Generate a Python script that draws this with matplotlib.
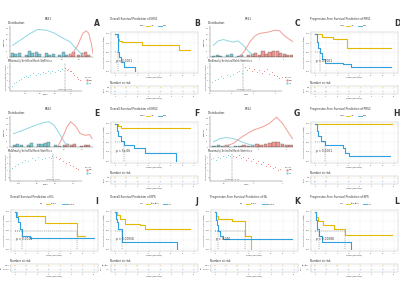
import matplotlib
matplotlib.use("Agg")
import matplotlib.pyplot as plt
from matplotlib.lines import Line2D

# ======================= DATA =======================
TIME_TICKS = [0, 10, 20, 30, 40, 50, 60, 70]

# ---- KM panels (times, survival) ----
B_low_t = [0, 2, 3, 4, 6, 24, 57, 66]
B_low_s = [1.0, 0.92, 0.87, 0.82, 0.78, 0.70, 0.56, 0.56]
B_high_t = [0, 2.3, 3, 4, 5, 8, 17.5]
B_high_s = [1.0, 0.62, 0.50, 0.38, 0.25, 0.12, 0.0]
B_risk_low = [23, 18, 15, 9, 9, 5, 3, 1]
B_risk_high = [14, 2, 0, 0, 0, 0, 0, 0]

D_low_t = [0, 6, 16, 28, 67]
D_low_s = [1.0, 0.92, 0.86, 0.62, 0.62]
D_high_t = [0, 1.5, 3, 4.5, 6, 9, 25, 32, 67]
D_high_s = [1.0, 0.78, 0.62, 0.48, 0.32, 0.23, 0.20, 0.12, 0.12]
D_risk_low = [10, 10, 8, 4, 4, 3, 3, 1]
D_risk_high = [28, 10, 6, 3, 3, 2, 2, 1]

F_low_t = [0, 3, 5, 66]
F_low_s = [1.0, 0.93, 0.88, 0.88]
F_high_t = [0, 2, 3, 5, 8, 16.6, 26.6, 54]
F_high_s = [1.0, 0.80, 0.68, 0.55, 0.42, 0.35, 0.21, 0.0]
F_risk_low = [16, 13, 10, 7, 7, 6, 4, 1]
F_risk_high = [21, 11, 5, 3, 2, 2, 0, 0]

H_low_t = [0, 68]
H_low_s = [1.0, 1.0]
H_high_t = [0, 1.5, 3, 5, 9, 25, 27, 30, 66]
H_high_s = [1.0, 0.80, 0.67, 0.53, 0.42, 0.35, 0.21, 0.14, 0.14]
H_risk_low = [8, 8, 7, 4, 4, 3, 3, 1]
H_risk_high = [30, 15, 7, 3, 3, 2, 2, 1]

I_single_t = [0, 2, 27, 54.5, 62]
I_single_s = [1.0, 0.89, 0.71, 0.35, 0.35]
I_multi_t = [0, 1, 3, 4.5, 6, 13.5, 70]
I_multi_s = [1.0, 0.85, 0.72, 0.55, 0.36, 0.29, 0.29]
I_risk_single = [20, 16, 14, 8, 8, 6, 3, 1]
I_risk_multi = [17, 8, 5, 4, 4, 4, 2, 1]

J_hi_t = [0, 1.5, 4.5, 9, 22, 27, 66]
J_hi_s = [1.0, 0.91, 0.80, 0.68, 0.64, 0.55, 0.55]
J_lo_t = [0, 0.5, 2, 3, 6, 54.5]
J_lo_s = [1.0, 0.82, 0.73, 0.55, 0.18, 0.0]
J_risk_hi = [25, 20, 16, 10, 9, 7, 4, 2]
J_risk_lo = [12, 4, 3, 2, 2, 1, 0, 0]

K_single_t = [0, 1, 3, 15, 27, 32]
K_single_s = [1.0, 0.89, 0.80, 0.75, 0.36, 0.0]
K_multi_t = [0, 0.5, 1.5, 3, 4.5, 7.5, 68]
K_multi_s = [1.0, 0.77, 0.64, 0.50, 0.36, 0.27, 0.27]
K_risk_single = [20, 15, 13, 6, 5, 4, 2, 1]
K_risk_multi = [17, 7, 5, 4, 4, 3, 2, 1]

L_hi_t = [0, 1, 3, 7.5, 16.5, 27, 68]
L_hi_s = [1.0, 0.85, 0.75, 0.64, 0.55, 0.38, 0.38]
L_lo_t = [0, 0.5, 2, 4, 6, 32]
L_lo_s = [1.0, 0.77, 0.55, 0.36, 0.18, 0.0]
L_risk_hi = [25, 18, 15, 8, 7, 6, 3, 2]
L_risk_lo = [12, 3, 2, 1, 0, 0, 0, 0]

# ---- Distribution panels ----
# A : ERS1
A_dlow_x = [0.22, 0.31, 0.43, 0.52, 0.62, 0.72, 0.82, 0.90, 0.97, 1.05]
A_dlow_y = [51, 73, 103, 120, 117, 103, 81, 66, 37, 7]
A_dhigh_x = [0.88, 0.93, 0.99, 1.05, 1.09, 1.12, 1.15, 1.17]
A_dhigh_y = [0, 15, 51, 103, 114, 103, 59, 15]
A_blow_x = [0.22, 0.26, 0.30, 0.38, 0.42, 0.46, 0.50, 0.54, 0.62, 0.66, 0.70, 0.78, 0.82, 0.86]
A_blow_n = [18, 12, 18, 10, 28, 18, 22, 14, 18, 10, 14, 10, 22, 8]
A_bhigh_x = [0.90, 0.94, 1.00, 1.04, 1.08, 1.12]
A_bhigh_n = [14, 22, 8, 18, 22, 10]
A_slow_x = [0.22, 0.25, 0.28, 0.32, 0.35, 0.38, 0.41, 0.44, 0.47, 0.50, 0.54,
            0.57, 0.60, 0.63, 0.66, 0.70, 0.73, 0.76, 0.79, 0.83, 0.86, 0.89]
A_slow_y = [1.3, 1.6, 1.8, 2.1, 2.2, 2.5, 2.7, 2.5, 2.9, 3.1, 2.8,
            3.2, 3.0, 3.3, 3.1, 3.4, 3.2, 3.5, 3.3, 3.6, 3.4, 3.7]
A_shigh_x = [0.93, 0.95, 0.97, 0.99, 1.01, 1.03, 1.05, 1.08, 1.10, 1.12]
A_shigh_y = [3.8, 3.6, 3.7, 3.4, 3.5, 3.1, 2.9, 2.5, 2.3, 2.1]
A_cut = 0.93

# C : PRS1
C_dlow_x = [-0.97, -0.76, -0.54, -0.33, -0.12, 0.09, 0.31, 0.52, 0.73]
C_dlow_y = [51, 70, 76, 70, 65, 70, 51, 26, 7]
C_dhigh_x = [0.16, 0.38, 0.59, 0.80, 1.01, 1.23, 1.44, 1.65, 1.86, 2.08, 2.29, 2.43]
C_dhigh_y = [0, 29, 66, 91, 103, 106, 110, 117, 114, 91, 76, 66]
C_blow_x = [-0.95, -0.8, -0.65, -0.35, -0.2, 0.1, 0.25]
C_blow_n = [6, 10, 6, 8, 14, 6, 8]
C_bhigh_x = [0.55, 0.7, 0.85, 1.0, 1.15, 1.3, 1.45, 1.6, 1.75, 1.9, 2.05, 2.2, 2.35]
C_bhigh_n = [8, 12, 18, 10, 24, 14, 20, 26, 28, 16, 14, 10, 8]
C_slow_x = [-0.92, -0.77, -0.62, -0.51, -0.39, -0.24, -0.08, 0.07, 0.22, 0.34, 0.45]
C_slow_y = [1.83, 2.10, 2.21, 2.63, 2.37, 2.90, 2.74, 3.06, 3.27, 3.43, 3.17]
C_shigh_x = [0.60, 0.68, 0.80, 0.91, 1.02, 1.14, 1.26, 1.37, 1.48, 1.60,
             1.72, 1.83, 1.93, 2.06, 2.18, 2.28]
C_shigh_y = [3.97, 3.59, 3.81, 3.43, 3.70, 3.27, 3.59, 3.17, 3.43, 3.70,
             3.06, 3.27, 2.90, 2.74, 2.37, 2.53]
C_cut = 0.53

# E : ERS2
E_dlow_x = [-0.39, -0.28, -0.16, -0.05, 0.02, 0.08, 0.14, 0.21, 0.25]
E_dlow_y = [58, 73, 91, 106, 110, 95, 59, 15, 3]
E_dhigh_x = [0.12, 0.18, 0.23, 0.27, 0.33, 0.38, 0.44, 0.49, 0.52]
E_dhigh_y = [0, 44, 88, 110, 91, 59, 51, 54, 37]
E_blow_x = [-0.38, -0.34, -0.30, -0.22, -0.18, -0.10, -0.06, -0.02, 0.02, 0.10, 0.14]
E_blow_n = [8, 12, 8, 10, 16, 12, 14, 18, 20, 8, 6]
E_bhigh_x = [0.20, 0.24, 0.28, 0.32, 0.40, 0.44, 0.48]
E_bhigh_n = [10, 14, 8, 12, 6, 10, 8]
E_slow_x = [-0.28, -0.24, -0.21, -0.17, -0.13, -0.10, -0.06, -0.02, 0.01, 0.05, 0.09, 0.13, 0.15, 0.17]
E_slow_y = [2.37, 2.74, 3.06, 3.27, 3.59, 3.43, 3.81, 3.59, 3.97, 3.70, 3.91, 4.07, 3.86, 4.13]
E_shigh_x = [0.21, 0.24, 0.26, 0.29, 0.32, 0.35, 0.37, 0.40, 0.43, 0.46]
E_shigh_y = [3.97, 3.70, 3.81, 3.43, 3.17, 3.27, 2.90, 2.63, 2.37, 2.21]
E_cut = 0.18

# G : PRS2
G_dlow_x = [-1.58, -1.35, -1.12, -0.89, -0.66, -0.42, -0.19]
G_dlow_y = [22, 37, 41, 37, 26, 15, 6]
G_dhigh_x = [-1.24, -0.89, -0.54, -0.19, 0.16, 0.39, 0.64, 0.85, 1.08, 1.2]
G_dhigh_y = [0, 15, 47, 73, 88, 103, 130, 103, 59, 37]
G_blow_x = [-1.55, -1.4, -1.25, -1.1, -0.8, -0.65]
G_blow_n = [6, 10, 4, 8, 6, 4]
G_bhigh_x = [-0.5, -0.35, -0.2, -0.05, 0.1, 0.25, 0.4, 0.55, 0.7, 0.85, 1.0, 1.15]
G_bhigh_n = [8, 6, 10, 12, 8, 14, 16, 20, 22, 12, 8, 10]
G_slow_x = [-1.48, -1.39, -1.30, -1.22, -1.14, -1.05, -0.96, -0.88, -0.80]
G_slow_y = [3.70, 3.91, 3.59, 3.97, 3.81, 4.23, 4.02, 4.34, 4.13]
G_shigh_x = [-0.69, -0.60, -0.51, -0.43, -0.35, -0.26, -0.17, -0.08, 0.00, 0.09,
             0.18, 0.26, 0.34, 0.43, 0.52, 0.60, 0.68, 0.77, 0.86, 0.94]
G_shigh_y = [4.23, 3.97, 4.34, 3.81, 4.07, 3.59, 3.81, 3.43, 3.70, 3.17,
             3.43, 3.06, 3.27, 2.74, 3.06, 2.63, 2.37, 2.53, 2.10, 2.21]
G_cut = -0.72

# ======================= STYLE =======================
W, H = 400, 293
YEL = "#E7B800"
BLU = "#2E9FDF"
DEN_LOW = "#8FD6E3"
DEN_HIGH = "#F29D96"
BAR_LOW = "#7CCAD6"
BAR_HIGH = "#EE9A93"
PT_LOW = "#7FD3DD"
PT_HIGH = "#F08A82"
TXT = "#333333"

fig = plt.figure(figsize=(4, 2.93), dpi=100)
fig.patch.set_facecolor("white")


def px_axes(x0, y0, x1, y1):
    return fig.add_axes([x0 / W, 1 - y1 / H, (x1 - x0) / W, (y1 - y0) / H])


def ftext(x, y, s, **kw):
    kw.setdefault("color", TXT)
    fig.text(x / W, 1 - y / H, s, **kw)


def fline(x0, x1, y, color, lw=0.6):
    fig.add_artist(Line2D([x0 / W, x1 / W], [1 - y / H, 1 - y / H], color=color, lw=lw))


def style_small(ax, fs=1.3):
    ax.tick_params(labelsize=fs, length=0.8, width=0.2, pad=0.4, colors="#555555")


def km_panel(ox, oy, title, strata, names, curves, risks, pval, letter):
    cols = [YEL, BLU]
    ftext(ox + 10, oy + 19, title, fontsize=2.0, ha="left", va="center")
    ftext(ox + 97, oy + 23, letter, fontsize=5.5, ha="center", va="center", fontweight="bold")
    # legend
    lx = ox + 40
    ftext(lx, oy + 26, strata, fontsize=1.5, ha="left", va="center")
    lx += 6
    for nm, c in zip(names, cols):
        fline(lx, lx + 4, oy + 26, c, lw=0.6)
        ftext(lx + 5, oy + 26, nm, fontsize=1.4, ha="left", va="center")
        lx += 6 + 1.3 * len(nm) + 2
    ax = px_axes(ox + 11, oy + 32, ox + 98, oy + 73)
    for (t, s), c in zip(curves, cols):
        ax.step(t, s, where="post", color=c, lw=0.8)
        # median dashed lines
        med = None
        for ti, si in zip(t, s):
            if si <= 0.5:
                med = ti
                break
        if med is not None:
            ax.plot([0, med], [0.5, 0.5], ls=(0, (2, 2)), color="#666666", lw=0.35)
            ax.plot([med, med], [0, 0.5], ls=(0, (2, 2)), color="#666666", lw=0.35)
    ax.set_xlim(-3.5, 73.5)
    ax.set_ylim(-0.05, 1.05)
    ax.set_xticks(TIME_TICKS)
    ax.set_yticks([0, 0.25, 0.5, 0.75, 1.0])
    ax.set_yticklabels(["0.00", "0.25", "0.50", "0.75", "1.00"])
    style_small(ax)
    ax.grid(color="#E8E8E8", lw=0.25)
    ax.set_axisbelow(True)
    for sp in ax.spines.values():
        sp.set_color("#BBBBBB")
        sp.set_linewidth(0.3)
    ax.set_xlabel("Time (Months)", fontsize=1.6, labelpad=0.6, color=TXT)
    ax.set_ylabel("Cumulative survival (percentage)", fontsize=1.4, labelpad=0.6, color=TXT)
    ax.text(1.0, 0.26, pval, fontsize=2.1, ha="left", va="center", color=TXT)
    # risk table
    ftext(ox + 10, oy + 83, "Number at risk", fontsize=2.0, ha="left", va="center")
    tab = px_axes(ox + 11, oy + 85.5, ox + 98, oy + 94)
    for i, (r, c) in enumerate(zip(risks, cols)):
        for tt, n in zip(TIME_TICKS, r):
            tab.text(tt, 2 - i, str(n), color=c, fontsize=1.5, ha="center", va="center")
    tab.set_xlim(-3.5, 73.5)
    tab.set_ylim(0.4, 2.6)
    tab.set_xticks(TIME_TICKS)
    tab.set_yticks([2, 1])
    tab.set_yticklabels(names)
    for lab, c in zip(tab.get_yticklabels(), cols):
        lab.set_color(c)
    style_small(tab, 1.2)
    tab.grid(color="#E8E8E8", lw=0.25)
    for sp in tab.spines.values():
        sp.set_color("#BBBBBB")
        sp.set_linewidth(0.3)
    tab.set_ylabel(strata, fontsize=1.4, labelpad=0.5, color=TXT)
    tab.set_xlabel("Time (Months)", fontsize=1.6, labelpad=0.6, color=TXT)


def dist_panel(ox, oy, name, letter, dlx, dly, dhx, dhy, blx, bln, bhx, bhn, binw,
               xlim, xticks, slx, sly, shx, shy, sxlim, sxticks, cut):
    ftext(ox + 48, oy + 19, name, fontsize=2.0, ha="center", va="center")
    ftext(ox + 97, oy + 23, letter, fontsize=5.5, ha="center", va="center", fontweight="bold")
    ftext(ox + 8, oy + 23.5, "Distribution", fontsize=2.2, ha="left", va="center")
    ax = px_axes(ox + 10, oy + 26, ox + 93, oy + 57)
    ax.bar(blx, bln, width=binw, color=BAR_LOW, edgecolor="#444444", lw=0.2)
    ax.bar(bhx, bhn, width=binw, color=BAR_HIGH, edgecolor="#444444", lw=0.2)
    ax.plot(dlx, dly, color=DEN_LOW, lw=0.7)
    ax.plot(dhx, dhy, color=DEN_HIGH, lw=0.7)
    ax.set_xlim(*xlim)
    ax.set_ylim(0, 135)
    ax.set_xticks(xticks)
    ax.set_yticks([0, 25, 50, 75, 100, 125])
    style_small(ax, 1.2)
    for s in ["top", "right"]:
        ax.spines[s].set_visible(False)
    for s in ["left", "bottom"]:
        ax.spines[s].set_linewidth(0.25)
        ax.spines[s].set_color("#444444")
    ax.set_ylabel("Density", fontsize=1.5, labelpad=0.5, color=TXT)
    ftext(ox + 8, oy + 61, "Maximally Selected Rank Statistics", fontsize=1.8, ha="left", va="center")
    sc = px_axes(ox + 10, oy + 63, ox + 82, oy + 91)
    sc.scatter(slx, sly, s=0.5, color=PT_LOW, lw=0)
    sc.scatter(shx, shy, s=0.5, color=PT_HIGH, lw=0)
    sc.axvline(cut, ls=(0, (1.5, 1.5)), color="#555555", lw=0.35)
    sc.set_xlim(*sxlim)
    sc.set_ylim(0.5, 4.6)
    sc.set_xticks(sxticks)
    sc.set_yticks([1, 2, 3, 4])
    sc.text(cut, 0.6, "Cutpoint: %g" % cut, fontsize=1.4, ha="center", va="bottom", color=TXT)
    style_small(sc, 1.2)
    for s in ["top", "right"]:
        sc.spines[s].set_visible(False)
    for s in ["left", "bottom"]:
        sc.spines[s].set_linewidth(0.25)
        sc.spines[s].set_color("#444444")
    sc.set_ylabel("Standardized Log-Rank Statistic", fontsize=1.2, labelpad=0.5, color=TXT)
    sc.set_xlabel(name, fontsize=1.5, labelpad=0.5, color=TXT)
    # groups legend
    ftext(ox + 85, oy + 77, "Groups", fontsize=1.4, ha="left", va="center")
    fig.add_artist(Line2D([(ox + 87) / W], [1 - (oy + 80) / H], marker="o", ms=0.7, color=PT_HIGH, lw=0))
    ftext(ox + 89, oy + 80, "high", fontsize=1.3, ha="left", va="center")
    fig.add_artist(Line2D([(ox + 87) / W], [1 - (oy + 83) / H], marker="o", ms=0.7, color=PT_LOW, lw=0))
    ftext(ox + 89, oy + 83, "low", fontsize=1.3, ha="left", va="center")


# ---------------- row 1 ----------------
dist_panel(0, 0, "ERS1", "A", A_dlow_x, A_dlow_y, A_dhigh_x, A_dhigh_y,
           A_blow_x, A_blow_n, A_bhigh_x, A_bhigh_n, 0.035,
           (0.19, 1.17), [0.2, 0.4, 0.6, 0.8, 1.0],
           A_slow_x, A_slow_y, A_shigh_x, A_shigh_y, (0.2, 1.15), [0.4, 0.6, 0.8, 1.0], A_cut)
km_panel(100, 0, "Overall Survival Prediction of ERS1", "ERS1", ["low", "high"],
         [(B_low_t, B_low_s), (B_high_t, B_high_s)], [B_risk_low, B_risk_high], "p < 0.0001", "B")
dist_panel(200, 0, "PRS1", "C", C_dlow_x, C_dlow_y, C_dhigh_x, C_dhigh_y,
           C_blow_x, C_blow_n, C_bhigh_x, C_bhigh_n, 0.13,
           (-1.11, 2.43), [-1, 0, 1, 2],
           C_slow_x, C_slow_y, C_shigh_x, C_shigh_y, (-1.0, 2.3), [-1, 0, 1, 2], C_cut)
km_panel(300, 0, "Progression-Free Survival Prediction of PRS1", "PRS1", ["low", "high"],
         [(D_low_t, D_low_s), (D_high_t, D_high_s)], [D_risk_low, D_risk_high], "p < 0.0001", "D")

# ---------------- row 2 ----------------
dist_panel(0, 90, "ERS2", "E", E_dlow_x, E_dlow_y, E_dhigh_x, E_dhigh_y,
           E_blow_x, E_blow_n, E_bhigh_x, E_bhigh_n, 0.035,
           (-0.43, 0.53), [-0.4, -0.2, 0.0, 0.2, 0.4],
           E_slow_x, E_slow_y, E_shigh_x, E_shigh_y, (-0.3, 0.5), [-0.2, 0.0, 0.2, 0.4], E_cut)
km_panel(100, 90, "Overall Survival Prediction of ERS2", "ERS2", ["low", "high"],
         [(F_low_t, F_low_s), (F_high_t, F_high_s)], [F_risk_low, F_risk_high], "p = 5e-06", "F")
dist_panel(200, 90, "PRS2", "G", G_dlow_x, G_dlow_y, G_dhigh_x, G_dhigh_y,
           G_blow_x, G_blow_n, G_bhigh_x, G_bhigh_n, 0.13,
           (-1.7, 1.22), [-1, 0, 1],
           G_slow_x, G_slow_y, G_shigh_x, G_shigh_y, (-1.5, 1.0), [-1, 0, 1], G_cut)
km_panel(300, 90, "Progression-Free Survival Prediction of PRS2", "PRS2", ["low", "high"],
         [(H_low_t, H_low_s), (H_high_t, H_high_s)], [H_risk_low, H_risk_high], "p < 0.0001", "H")

# ---------------- row 3 ----------------
km_panel(0, 178, "Overall Survival Prediction of NL", "NL", ["single", "multiple"],
         [(I_single_t, I_single_s), (I_multi_t, I_multi_s)], [I_risk_single, I_risk_multi], "p = 0.0014", "I")
km_panel(100, 178, "Overall Survival Prediction of KPS", "KPS", ["≥70/≤80", "<70"],
         [(J_hi_t, J_hi_s), (J_lo_t, J_lo_s)], [J_risk_hi, J_risk_lo], "p = 0.00058", "J")
km_panel(200, 178, "Progression-Free Survival Prediction of NL", "NL", ["single", "multiple"],
         [(K_single_t, K_single_s), (K_multi_t, K_multi_s)], [K_risk_single, K_risk_multi], "p = 0.020", "K")
km_panel(300, 178, "Progression-Free Survival Prediction of KPS", "KPS", ["≥70/≤80", "<70"],
         [(L_hi_t, L_hi_s), (L_lo_t, L_lo_s)], [L_risk_hi, L_risk_lo], "p = 0.00088", "L")

fig.savefig("out.png", dpi=100, facecolor="white")
